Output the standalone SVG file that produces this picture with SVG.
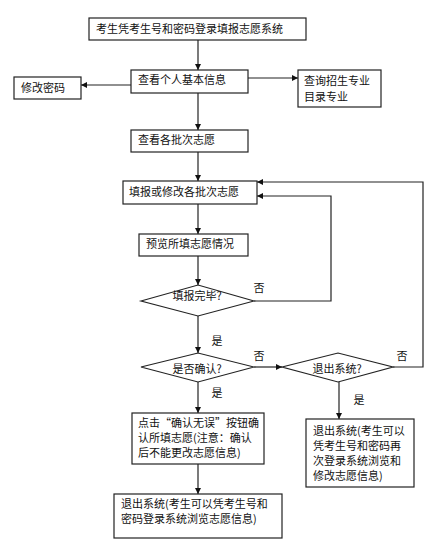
<svg xmlns="http://www.w3.org/2000/svg" width="440" height="550" viewBox="0 0 440 550">
<style>
.b{fill:#fff;stroke:#222;stroke-width:1.2}
.t{font-family:"Noto Sans CJK SC","Noto Sans",sans-serif;font-size:11px;fill:#111}
.m{text-anchor:middle}
.c{fill:none;stroke:#222;stroke-width:1.2}
</style>
<defs>
<marker id="a" markerUnits="userSpaceOnUse" markerWidth="8" markerHeight="8" refX="6" refY="3" orient="auto">
<path d="M0,0 L6,3 L0,6 Z" fill="#111"/>
</marker>
</defs>
<rect width="440" height="550" fill="#fff"/>
<g id="connectors">
<path class="c" d="M198,40 V70" marker-end="url(#a)"/>
<path class="c" d="M131,85 H81" marker-end="url(#a)"/>
<path class="c" d="M248,78 H298" marker-end="url(#a)"/>
<path class="c" d="M198,93 V130" marker-end="url(#a)"/>
<path class="c" d="M198,152 V181" marker-end="url(#a)"/>
<path class="c" d="M198,204 V234" marker-end="url(#a)"/>
<path class="c" d="M198,256 V285" marker-end="url(#a)"/>
<path class="c" d="M254,301 H331 V196 H257" marker-end="url(#a)"/>
<path class="c" d="M198,316 V353" marker-end="url(#a)"/>
<path class="c" d="M254,367 H282" marker-end="url(#a)"/>
<path class="c" d="M393,367 H423 V182 H257" marker-end="url(#a)"/>
<path class="c" d="M198,382 V413" marker-end="url(#a)"/>
<path class="c" d="M198,464 V494" marker-end="url(#a)"/>
<path class="c" d="M339,382 V419" marker-end="url(#a)"/>
<text class="t m" x="259" y="292">否</text>
<text class="t m" x="259" y="360">否</text>
<text class="t m" x="402" y="360">否</text>
<text class="t m" x="217" y="345">是</text>
<text class="t m" x="217" y="397">是</text>
<text class="t m" x="359" y="404">是</text>
</g>
<g id="n1"><rect class="b" x="89" y="18" width="217" height="22"/><text class="t" x="96" y="33">考生凭考生号和密码登录填报志愿系统</text></g>
<g id="n2"><rect class="b" x="131" y="70" width="117" height="23"/><text class="t" x="138" y="84">查看个人基本信息</text></g>
<g id="n3"><rect class="b" x="14" y="77" width="67" height="22"/><text class="t" x="21" y="92">修改密码</text></g>
<g id="n4"><rect class="b" x="298" y="70" width="83" height="37"/><text class="t" x="304" y="85">查询招生专业</text><text class="t" x="304" y="101">目录专业</text></g>
<g id="n5"><rect class="b" x="131" y="130" width="117" height="22"/><text class="t" x="138" y="144">查看各批次志愿</text></g>
<g id="n6"><rect class="b" x="123" y="181" width="134" height="23"/><text class="t" x="129" y="196">填报或修改各批次志愿</text></g>
<g id="n7"><rect class="b" x="139" y="234" width="109" height="22"/><text class="t" x="146" y="248">预览所填志愿情况</text></g>
<g id="n8"><polygon class="b" points="141,301 198,285 254,301 198,316"/><text class="t m" x="197" y="300">填报完毕?</text></g>
<g id="n9"><polygon class="b" points="141,367 198,353 254,367 198,382"/><text class="t m" x="197" y="373">是否确认?</text></g>
<g id="n10"><polygon class="b" points="282,367 338,353 393,367 338,382"/><text class="t m" x="337" y="373">退出系统?</text></g>
<g id="n11"><rect class="b" x="132" y="413" width="132" height="51"/><text class="t" x="138" y="427">点击“确认无误”按钮确</text><text class="t" x="138" y="442">认所填志愿(注意：确认</text><text class="t" x="138" y="457">后不能更改志愿信息)</text></g>
<g id="n12"><rect class="b" x="114" y="494" width="168" height="44"/><text class="t" x="121" y="508">退出系统(考生可以凭考生号和</text><text class="t" x="121" y="523">密码登录系统浏览志愿信息)</text></g>
<g id="n13"><rect class="b" x="306" y="419" width="108" height="68"/><text class="t" x="313" y="435">退出系统(考生可以</text><text class="t" x="313" y="450">凭考生号和密码再</text><text class="t" x="313" y="465">次登录系统浏览和</text><text class="t" x="313" y="480">修改志愿信息)</text></g>
</svg>
